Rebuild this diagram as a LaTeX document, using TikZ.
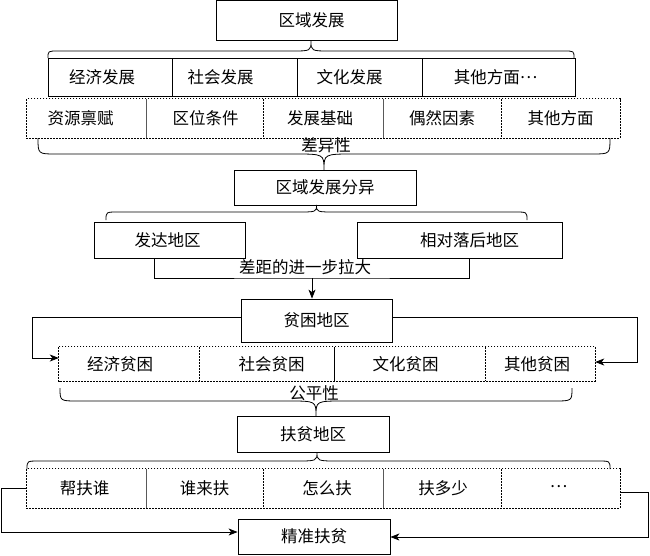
\documentclass[tikz,border=0pt]{standalone}
\usepackage{fontspec}
\newfontfamily\cjk{Noto Sans CJK SC}
\usetikzlibrary{arrows.meta,calc}
\newcommand\offtext[2]{\hbox to 0pt{\hss\kern#1\relax#2\kern-#1\relax\hss}}
\newcommand\midell{\raisebox{0.3em}{…}}
\newcommand\curlyb[8]{\draw[bracestyle] (#1,#3) .. controls (#1,#4) .. (#1+#7,#4) -- (#5-#8,#4) .. controls (#5,#4) .. (#5,#6) .. controls (#5,#4) .. (#5+#8,#4) -- (#2-#7,#4) .. controls (#2,#4) .. (#2,#3);}
\begin{document}
\begin{tikzpicture}[x=1pt,y=-1pt,
  every node/.style={font=\cjk\fontsize{16.5pt}{17pt}\selectfont, inner sep=0pt},
  box/.style={draw, line width=0.8pt},
  cell/.style={draw=none},
  dotline/.style={line width=0.8pt, dash pattern=on 1.8pt off 1.2pt},
  divsolid/.style={line width=0.6pt, black!65},
  bracestyle/.style={line width=0.8pt},
  conn/.style={line width=0.8pt},
  arr/.style={line width=0.8pt, -{Stealth[length=9pt,width=7pt,inset=2.5pt]}}]
\useasboundingbox (0,0) rectangle (650,555);

% top box
\node[box, minimum width=181pt, minimum height=39.3pt] (top) at (306.5,20.35) {\offtext{5pt}{区域发展}};
\curlyb{48}{574}{58}{51}{311}{41}{10}{20}

% row 2 solid
\node[box, minimum width=124pt, minimum height=38pt] (r2a) at (110,77) {\offtext{-8pt}{经济发展}};
\node[box, minimum width=125pt, minimum height=38pt] (r2b) at (234.5,77) {\offtext{-14pt}{社会发展}};
\node[box, minimum width=125pt, minimum height=38pt] (r2c) at (359.5,77) {\offtext{-10pt}{文化发展}};
\node[box, minimum width=153pt, minimum height=38pt] (r2d) at (498.5,77) {\offtext{-3pt}{其他方面\midell}};

% row 3 dotted
\node[cell, minimum width=119pt, minimum height=39pt] (r3a) at (86.5,118.5) {\offtext{-6pt}{资源禀赋}};
\node[cell, minimum width=117pt, minimum height=39pt] (r3b) at (204.5,118.5) {\offtext{1pt}{区位条件}};
\node[cell, minimum width=120pt, minimum height=39pt] (r3c) at (323,118.5) {\offtext{-3pt}{发展基础}};
\node[cell, minimum width=118pt, minimum height=39pt] (r3d) at (442,118.5) {偶然因素};
\node[cell, minimum width=119pt, minimum height=39pt] (r3e) at (560.5,118.5) {其他方面};
\draw[dotline] (r3a.north west) rectangle (r3e.south east);
\draw[divsolid] (r3a.north east) -- (r3a.south east);
\draw[dotline] (r3b.north east) -- (r3b.south east);
\draw[divsolid] (r3c.north east) -- (r3c.south east);
\draw[dotline] (r3d.north east) -- (r3d.south east);

\curlyb{38}{610}{138}{154}{324}{170}{18}{30}
\node (cyx) at (326,145) {差异性};

% 区域发展分异
\node[box, minimum width=182pt, minimum height=35pt] (fenyi) at (325,187.5) {区域发展分异};
\curlyb{106}{527}{220}{212}{316.5}{205}{12}{20}

\node[box, minimum width=151pt, minimum height=36pt] (fada) at (169.5,240) {\offtext{-2pt}{发达地区}};
\node[box, minimum width=205pt, minimum height=36pt] (luohou) at (459.5,240) {\offtext{10pt}{相对落后地区}};
\coordinate (gapmid) at (312,278);
\draw[conn] ([xshift=-15.5pt]fada.south) |- (gapmid) -| ([xshift=9.5pt]luohou.south);
\node (gaplbl) at (305,267) {差距的进一步拉大};

% 贫困地区
\node[box, minimum width=151pt, minimum height=43pt] (pinkun) at (316.5,320.5) {贫困地区};
\draw[arr] (gapmid) -- (gapmid |- pinkun.north);

\node[cell, minimum width=140pt, minimum height=34pt] (pa) at (129,364) {\offtext{-9pt}{经济贫困}};
\node[cell, minimum width=135pt, minimum height=34pt] (pb) at (266.5,364) {\offtext{5pt}{社会贫困}};
\node[cell, minimum width=151pt, minimum height=34pt] (pc) at (409.5,364) {\offtext{-4pt}{文化贫困}};
\node[cell, minimum width=110pt, minimum height=34pt] (pd) at (540,364) {\offtext{-3pt}{其他贫困}};
\draw[dotline] (pa.north west) rectangle (pd.south east);
\draw[dotline] (pa.north east) -- (pa.south east);
\draw[line width=0.7pt] (pb.north east) -- (pb.south east);
\draw[dotline] (pc.north east) -- (pc.south east);

\coordinate (L1) at (32,358);
\coordinate (R1) at (637,362);
\draw[arr] ([yshift=3.5pt]pinkun.west) -| (L1) -- (L1 -| pa.west);
\draw[arr] ([yshift=3.5pt]pinkun.east) -| (R1) -- (R1 -| pd.east);

\curlyb{60}{572}{388}{401}{316}{416}{18}{28}
\node (gpx) at (314,393) {公平性};

% 扶贫地区
\node[box, minimum width=152pt, minimum height=36pt] (fupin) at (313,434) {扶贫地区};
\curlyb{27}{610}{469}{461}{317}{452}{12}{22}

\node[cell, minimum width=119pt, minimum height=39pt] (fa) at (86.5,488.5) {\offtext{-2pt}{帮扶谁}};
\node[cell, minimum width=117pt, minimum height=39pt] (fb) at (204.5,488.5) {谁来扶};
\node[cell, minimum width=120pt, minimum height=39pt] (fc) at (323,488.5) {\offtext{4pt}{怎么扶}};
\node[cell, minimum width=118pt, minimum height=39pt] (fd) at (442,488.5) {\offtext{1pt}{扶多少}};
\node[cell, minimum width=119pt, minimum height=39pt] (fe) at (560.5,488.5) {\offtext{-2pt}{\midell}};
\draw[dotline] (fa.north west) rectangle (fe.south east);
\draw[divsolid] (fa.north east) -- (fa.south east);
\draw[dotline] (fb.north east) -- (fb.south east);
\draw[divsolid] (fc.north east) -- (fc.south east);
\draw[dotline] (fd.north east) -- (fd.south east);

% 精准扶贫
\node[box, minimum width=152pt, minimum height=35pt] (jz) at (314,536.5) {精准扶贫};
\coordinate (L2) at (1,532);
\coordinate (R2) at (648,537);
\draw[arr] (fa.west) -| (L2) -- (L2 -| jz.west);
\draw[arr] ([yshift=-3.5pt]fe.east) -| (R2) -- (R2 -| jz.east);
\end{tikzpicture}
\end{document}
